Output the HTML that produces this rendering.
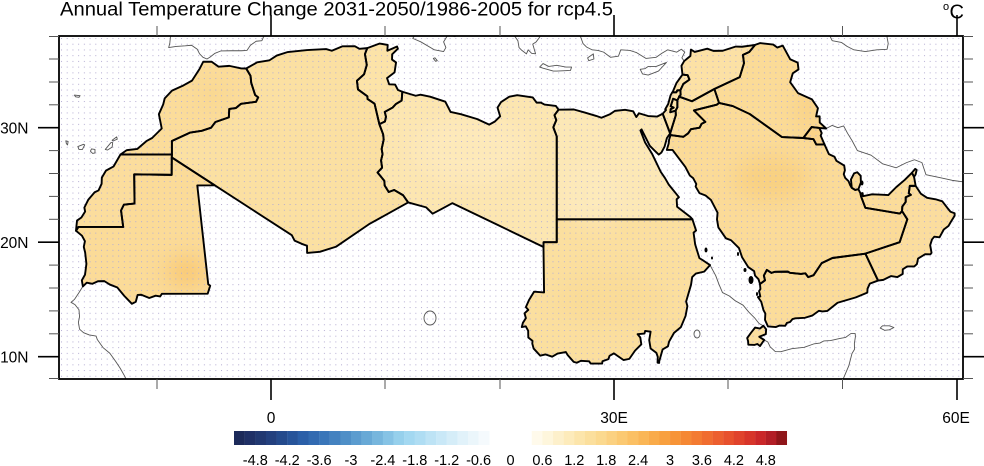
<!DOCTYPE html>
<html><head><meta charset="utf-8"><style>
html,body{margin:0;padding:0;background:#fff;}
svg{display:block;}
text{font-family:"Liberation Sans",Arial,sans-serif;fill:#000;}
</style></head><body>
<svg width="984" height="466" viewBox="0 0 984 466" xmlns="http://www.w3.org/2000/svg" xmlns:xlink="http://www.w3.org/1999/xlink">
<defs>
<clipPath id="frame"><rect x="59" y="36" width="904" height="343"/></clipPath>
<pattern id="dots" x="61" y="38" width="5.715" height="5.725" patternUnits="userSpaceOnUse"><rect width="1" height="1" fill="#b4acd2"/></pattern>
<filter id="blur" x="-50%" y="-50%" width="200%" height="200%"><feGaussianBlur stdDeviation="0.9"/></filter>
<clipPath id="land" clipPathUnits="userSpaceOnUse">
<use href="#c1" xlink:href="#c1"/><use href="#c2" xlink:href="#c2"/><use href="#c3" xlink:href="#c3"/><use href="#c4" xlink:href="#c4"/><use href="#c5" xlink:href="#c5"/><use href="#c6" xlink:href="#c6"/><use href="#c7" xlink:href="#c7"/><use href="#c8" xlink:href="#c8"/><use href="#c9" xlink:href="#c9"/><use href="#c10" xlink:href="#c10"/><use href="#c11" xlink:href="#c11"/><use href="#c12" xlink:href="#c12"/><use href="#c13" xlink:href="#c13"/><use href="#c14" xlink:href="#c14"/><use href="#c15" xlink:href="#c15"/><use href="#c16" xlink:href="#c16"/><use href="#c17" xlink:href="#c17"/><use href="#c18" xlink:href="#c18"/><use href="#c19" xlink:href="#c19"/><use href="#c20" xlink:href="#c20"/><use href="#c21" xlink:href="#c21"/><use href="#c22" xlink:href="#c22"/><use href="#c23" xlink:href="#c23"/>
</clipPath>
</defs>

<g clip-path="url(#frame)">
<rect x="59" y="36" width="904" height="343" fill="#fff"/>
<g transform="matrix(11.43 0 0 -11.45 271 471.2)" stroke="none">
<polygon id="c1" fill="#fbdc9a" points="-2.17,35.17 -1.79,34.53 -1.73,33.92 -1.39,32.86 -1.12,32.65 -1.31,32.26 -2.62,32.09 -3.07,31.72 -3.65,31.64 -3.69,30.90 -4.86,30.50 -5.24,30.00 -6.06,29.73 -7.06,29.58 -8.67,28.84 -8.67,27.66 -13.17,27.66 -12.62,28.04 -11.69,28.15 -10.90,28.83 -10.40,29.10 -9.56,29.93 -9.81,31.18 -9.43,32.04 -9.30,32.56 -8.66,33.24 -7.65,33.70 -6.91,34.11 -6.24,35.15 -5.93,35.76 -5.19,35.76 -4.59,35.33 -3.64,35.40 -2.60,35.18"/>
<polygon id="c2" fill="#fbdd9d" points="-8.67,27.66 -8.68,27.40 -8.69,25.88 -11.97,25.93 -11.94,23.37 -12.87,23.28 -13.12,22.77 -12.93,21.33 -16.85,21.33 -17.06,21.00 -17.02,21.42 -16.97,21.89 -16.59,22.16 -16.26,22.68 -16.33,23.02 -15.98,23.72 -15.43,24.36 -15.09,24.52 -14.82,25.10 -14.80,25.64 -14.44,26.25 -13.77,26.62 -13.17,27.66"/>
<polygon id="c3" fill="#fbdb98" points="-4.92,24.97 -6.45,24.96 -5.97,20.64 -5.49,16.33 -5.32,16.20 -5.54,15.50 -9.55,15.49 -9.70,15.26 -10.09,15.33 -10.65,15.13 -11.35,15.41 -11.67,15.39 -11.83,14.80 -12.17,14.62 -12.83,15.30 -13.44,16.04 -14.10,16.30 -14.58,16.60 -15.14,16.59 -15.62,16.37 -16.12,16.46 -16.46,16.14 -16.55,16.67 -16.27,17.17 -16.15,18.11 -16.26,19.10 -16.38,19.59 -16.28,20.09 -16.54,20.57 -17.06,21.00 -16.85,21.33 -12.93,21.33 -13.12,22.77 -12.87,23.28 -11.94,23.37 -11.97,25.93 -8.69,25.88 -8.68,27.40"/>
<polygon id="c4" fill="#fbe0a2" points="-8.68,27.40 -8.67,27.66 -8.67,28.84 -7.06,29.58 -6.06,29.73 -5.24,30.00 -4.86,30.50 -3.69,30.90 -3.65,31.64 -3.07,31.72 -2.62,32.09 -1.31,32.26 -1.12,32.65 -1.39,32.86 -1.73,33.92 -1.79,34.53 -2.17,35.17 -1.21,35.71 -0.13,35.89 0.50,36.30 1.47,36.61 3.16,36.78 4.82,36.87 5.32,36.72 6.26,37.11 7.33,37.12 7.74,36.89 8.42,36.95 8.22,36.43 8.38,35.48 8.14,34.66 7.52,34.10 7.61,33.34 8.43,32.75 8.44,32.51 9.06,32.10 9.48,30.31 9.81,29.42 9.86,28.96 9.68,28.14 9.76,27.69 9.63,27.14 9.72,26.51 9.32,26.09 9.91,25.37 9.95,24.94 10.30,24.38 10.77,24.56 11.56,24.10 12.00,23.47 8.57,21.57 5.68,19.60 4.27,19.16 3.16,19.06 3.15,19.69 2.68,19.86 2.06,20.14 1.82,20.61 -1.55,22.79 -4.92,24.97"/>
<polygon id="c5" fill="#fce3a8" points="9.48,30.31 9.06,32.10 8.44,32.51 8.43,32.75 7.61,33.34 7.52,34.10 8.14,34.66 8.38,35.48 8.22,36.43 8.42,36.95 9.51,37.35 10.21,37.23 10.18,36.72 11.03,37.09 11.10,36.90 10.60,36.41 10.59,35.95 10.94,35.70 10.81,34.83 10.15,34.33 10.34,33.79 10.86,33.77 11.11,33.29 11.49,33.14 11.43,32.37 10.94,32.08 10.64,31.76 9.95,31.38 10.06,30.96 9.97,30.54"/>
<polygon id="c6" fill="#fce6b1" points="14.85,22.86 14.14,22.49 13.58,23.04 12.00,23.47 11.56,24.10 10.77,24.56 10.30,24.38 9.95,24.94 9.91,25.37 9.32,26.09 9.72,26.51 9.63,27.14 9.76,27.69 9.68,28.14 9.86,28.96 9.81,29.42 9.48,30.31 9.97,30.54 10.06,30.96 9.95,31.38 10.64,31.76 10.94,32.08 11.43,32.37 11.49,33.14 12.66,32.79 13.08,32.88 13.92,32.71 15.25,32.27 15.71,31.38 16.61,31.18 18.02,30.76 19.09,30.27 19.57,30.53 20.05,30.99 19.82,31.75 20.13,32.24 20.85,32.71 21.54,32.84 22.90,32.64 23.24,32.19 23.61,32.19 23.93,32.02 24.92,31.90 25.16,31.57 24.80,31.09 24.96,30.66 24.70,30.04 25.00,29.24 25.00,22.00 25.00,20.00 23.85,20.00 23.84,19.58 19.85,21.50 15.86,23.41"/>
<polygon id="c7" fill="#fce8b6" points="36.87,22.00 25.00,22.00 25.00,29.24 24.70,30.04 24.96,30.66 24.80,31.09 25.16,31.57 26.50,31.59 27.46,31.32 28.45,31.03 28.91,30.87 29.68,31.19 30.09,31.47 30.98,31.56 31.69,31.43 31.96,30.93 32.19,31.26 32.99,31.02 33.77,30.97 34.27,31.22 34.92,29.50 34.64,29.10 34.43,28.34 34.15,27.82 33.92,27.65 33.59,27.97 33.14,28.42 32.42,29.85 32.32,29.76 32.73,28.71 33.35,27.70 34.10,26.14 34.47,25.60 34.80,25.03 35.69,23.93 35.49,23.75 35.53,23.10 36.69,22.20"/>
<polygon id="c8" fill="#fbdf9f" points="23.55,10.09 22.98,10.71 22.86,11.14 22.88,11.38 22.51,11.68 22.50,12.26 22.29,12.65 21.94,12.59 22.04,12.96 22.30,13.37 22.18,13.79 22.51,14.09 22.30,14.33 22.57,14.94 23.02,15.68 23.89,15.61 23.84,19.58 23.85,20.00 25.00,20.00 25.00,22.00 36.87,22.00 37.19,21.02 36.97,20.84 37.11,19.81 37.48,18.61 37.86,18.37 38.41,18.00 37.90,17.43 37.17,17.26 36.85,16.96 36.75,16.29 36.32,14.82 36.43,14.42 36.27,13.56 35.86,12.58 35.26,12.08 34.83,11.32 34.73,10.91 34.26,10.63 33.96,9.58 33.96,9.46 33.82,9.48 33.84,9.98 33.72,10.33 33.21,10.72 33.09,11.44 33.21,12.18 32.74,12.25 32.67,12.02 32.07,11.97 32.31,11.68 32.40,11.08 31.85,10.53 31.35,9.81 30.84,9.71 30.00,10.29 29.62,10.08 29.52,9.79 29.00,9.60 28.97,9.40 27.97,9.40 27.83,9.60 27.11,9.64 26.75,9.47 26.48,9.55 25.96,10.14 25.79,10.41 25.07,10.27 24.6,10.0 24.0,10.2"/>
<polygon id="c9" fill="#fce3aa" points="35.72,32.71 35.55,32.39 35.18,32.53 34.97,31.87 35.23,31.75 34.97,31.62 34.93,31.35 35.40,31.49 35.42,31.10 34.92,29.50 34.27,31.22 34.56,31.55 34.49,31.61 34.75,32.07 34.96,32.83 35.10,33.08 35.13,33.09 35.46,33.09 35.55,33.26 35.82,33.28 35.84,32.87 35.70,32.72"/>
<polygon id="c10" fill="#fce3aa" points="35.55,32.39 35.55,31.78 35.40,31.49 34.93,31.35 34.97,31.62 35.23,31.75 34.97,31.87 35.18,32.53"/>
<polygon id="c11" fill="#fce3aa" points="35.82,33.28 35.55,33.26 35.46,33.09 35.13,33.09 35.48,33.91 35.98,34.61 36.00,34.64 36.45,34.59 36.61,34.20 36.07,33.82"/>
<polygon id="c12" fill="#fce1a5" points="35.72,32.71 35.70,32.72 35.84,32.87 35.82,33.28 36.07,33.82 36.61,34.20 36.45,34.59 36.00,34.64 35.91,35.41 36.15,35.82 36.42,36.04 36.69,36.26 36.74,36.82 37.07,36.62 38.17,36.90 38.70,36.71 39.52,36.72 40.67,37.09 41.21,37.07 42.35,37.23 41.84,36.61 41.29,36.36 41.38,35.63 41.01,34.42 38.79,33.38 36.83,32.31"/>
<polygon id="c13" fill="#fbdfa0" points="35.55,32.39 35.72,32.71 36.83,32.31 38.79,33.38 39.20,32.16 39.00,32.01 37.00,31.51 38.00,30.51 37.67,30.34 37.50,30.00 36.74,29.87 36.50,29.51 36.07,29.20 34.96,29.36 34.92,29.50 35.42,31.10 35.40,31.49 35.55,31.78"/>
<polygon id="c14" fill="#fbdb97" points="45.42,35.98 46.08,35.68 46.15,35.09 45.65,34.75 45.42,33.97 46.11,33.02 47.33,32.47 47.85,31.71 47.69,30.98 48.00,30.99 48.01,30.45 48.57,29.93 47.97,29.98 47.30,30.06 46.57,29.10 44.71,29.18 41.89,31.19 40.40,31.89 39.20,32.16 38.79,33.38 41.01,34.42 41.38,35.63 41.29,36.36 41.84,36.61 42.35,37.23 42.78,37.39 43.94,37.26 44.29,37.00 44.77,37.17"/>
<polygon id="c15" fill="#fad48b" points="47.97,29.98 48.18,29.53 48.09,29.31 48.42,28.55 47.71,28.53 47.46,29.00 46.57,29.10 47.30,30.06"/>
<polygon id="c16" fill="#fbdb98" points="42.78,16.35 42.65,16.77 42.35,17.08 42.27,17.47 41.75,17.83 41.22,18.67 40.94,19.49 40.25,20.17 39.80,20.34 39.14,21.29 39.02,21.99 39.07,22.58 38.49,23.69 38.02,24.08 37.48,24.29 37.15,24.86 37.21,25.08 36.93,25.60 36.64,25.83 36.25,26.57 35.64,27.38 35.13,28.06 34.63,28.06 34.79,28.61 34.83,28.96 34.96,29.36 36.07,29.20 36.50,29.51 36.74,29.87 37.50,30.00 37.67,30.34 38.00,30.51 37.00,31.51 39.00,32.01 39.20,32.16 40.40,31.89 41.89,31.19 44.71,29.18 46.57,29.10 47.46,29.00 47.71,28.53 48.42,28.55 48.81,27.69 49.30,27.46 49.47,27.11 50.15,26.69 50.21,26.28 50.11,25.94 50.24,25.61 50.53,25.33 50.66,25.00 50.81,24.75 51.11,24.56 51.39,24.63 51.58,24.25 51.62,24.01 52.00,23.00 55.01,22.50 55.21,22.71 55.67,22.00 55.00,20.00 52.00,19.00 49.12,18.62 48.18,18.17 47.47,17.12 47.00,16.95 46.75,17.28 46.37,17.23 45.40,17.33 45.22,17.43 44.06,17.41 43.79,17.32 43.38,17.58 43.12,17.09 43.22,16.67"/>
<polygon id="c17" fill="#fbdc9a" points="52.00,19.00 52.78,17.35 53.11,16.65 52.39,16.38 52.19,15.94 52.17,15.60 51.17,15.18 49.57,14.71 48.68,14.00 48.24,13.95 47.94,14.01 47.35,13.59 46.72,13.40 45.88,13.35 45.63,13.29 45.41,13.03 45.14,12.95 44.99,12.70 44.49,12.72 44.18,12.59 43.48,12.64 43.22,13.22 43.25,13.77 43.09,14.06 42.89,14.80 42.60,15.21 42.81,15.26 42.70,15.72 42.82,15.91 42.78,16.35 43.22,16.67 43.12,17.09 43.38,17.58 43.79,17.32 44.06,17.41 45.22,17.43 45.40,17.33 46.37,17.23 46.75,17.28 47.00,16.95 47.47,17.12 48.18,18.17 49.12,18.62"/>
<polygon id="c18" fill="#fbdd9e" points="58.86,21.11 58.49,20.43 58.03,20.48 57.83,20.24 57.67,19.74 57.79,19.07 57.69,18.94 57.23,18.95 56.61,18.57 56.51,18.09 56.28,17.88 55.66,17.88 55.27,17.63 55.27,17.23 54.79,16.95 54.24,17.04 53.57,16.71 53.11,16.65 52.78,17.35 52.00,19.00 55.00,20.00 55.67,22.00 55.21,22.71 55.23,23.11 55.53,23.52 55.53,23.93 55.98,24.13 55.80,24.27 55.89,24.92 56.40,24.92 56.85,24.24 57.40,23.88 58.14,23.75 58.73,23.57 59.18,22.99 59.45,22.66 59.81,22.53 59.81,22.31 59.44,21.71 59.28,21.43"/>
<polygon id="c19" fill="#fbdd9e" points="56.39,25.90 56.26,25.71 56.07,26.06 56.36,26.40 56.49,26.31"/>
<polygon id="c20" fill="#fbdc9a" points="51.58,24.25 51.76,24.29 51.79,24.02 52.58,24.18 53.40,24.15 54.01,24.12 54.69,24.80 55.44,25.44 56.07,26.06 56.26,25.71 56.40,24.92 55.89,24.92 55.80,24.27 55.98,24.13 55.53,23.93 55.53,23.52 55.23,23.11 55.21,22.71 55.01,22.50 52.00,23.00 51.62,24.01"/>
<polygon id="c21" fill="#fbdb98" points="50.81,24.75 50.74,25.48 51.01,26.01 51.29,26.11 51.59,25.80 51.61,25.22 51.39,24.63 51.11,24.56"/>
<polygon id="c22" fill="#fbdf9f" points="43.08,12.70 43.32,12.39 43.29,11.97 42.72,11.74 43.15,11.46 42.78,10.93 42.55,11.11 42.31,11.03 41.76,11.05 41.74,11.36 41.66,11.63 42.00,12.10 42.35,12.54 42.78,12.46"/>
<polygon id="c23" fill="#fbdc9a" points="-8.68,27.40 -8.69,25.88 -8.67,27.66"/>

<!-- shading variations (clipped to land) -->
<g clip-path="url(#land)">
<g filter="url(#blur)" opacity="0.85">
<ellipse cx="43.8" cy="25.6" rx="3.3" ry="1.9" fill="#f8cf7e"/>
<ellipse cx="47.0" cy="31.7" rx="1.0" ry="2.3" fill="#f9d083"/>
<ellipse cx="-7.4" cy="17.4" rx="1.75" ry="1.4" fill="#f8c670"/>
<ellipse cx="-5.2" cy="32.9" rx="1.0" ry="1.0" fill="#f9d488"/>
<ellipse cx="17.4" cy="28.1" rx="5.2" ry="3.0" fill="#fdebc0" opacity="0.7"/>
<ellipse cx="28.3" cy="24.1" rx="2.6" ry="3.0" fill="#fdebc0" opacity="0.6"/>
<ellipse cx="29.7" cy="15.0" rx="4.8" ry="2.2" fill="#fad893" opacity="0.7"/>
</g>
</g>
</g>

<rect x="59" y="36" width="904" height="343" fill="url(#dots)"/>

<!-- gray coastlines -->
<g transform="matrix(11.43 0 0 -11.45 271 471.2)" fill="none" stroke="#555" stroke-width="0.9" stroke-linejoin="round">
<polyline vector-effect="non-scaling-stroke" points="-8.85,38.3 -8.8,37.9 -8.85,37.4 -8.95,37.0 -8.3,37.1 -7.5,37.15 -6.95,37.2 -6.45,36.85 -6.25,36.45 -5.95,36.15 -5.6,36.0 -5.35,36.15 -4.9,36.5 -4.4,36.7 -3.5,36.72 -2.6,36.72 -2.1,36.75 -1.8,37.2 -1.3,37.55 -0.8,37.6 -0.6,38.05 -0.3,38.4"/>
<polygon vector-effect="non-scaling-stroke" points="12.4,37.8 12.6,38.1 13.4,38.2 14.0,38.0 15.1,38.2 15.6,38.3 15.1,37.5 15.3,37.0 15.1,36.65 14.3,36.8 13.1,37.5"/>
<polyline vector-effect="non-scaling-stroke" points="15.6,38.4 15.9,38.0 16.1,37.95 16.5,38.4"/>
<polygon vector-effect="non-scaling-stroke" points="14.2,36.05 14.35,36.1 14.55,35.85 14.4,35.8"/>
<polyline vector-effect="non-scaling-stroke" points="21.1,38.3 21.6,37.6 21.7,37.0 21.95,36.75 22.35,36.45 22.5,36.8 22.8,36.5 23.15,36.45 22.9,37.3 23.2,37.5 23.5,37.9 23.6,38.1"/>
<polygon vector-effect="non-scaling-stroke" points="23.5,35.3 23.8,35.6 24.3,35.35 25.0,35.45 25.8,35.3 26.3,35.3 26.2,35.0 25.0,34.95 24.7,34.95 23.8,35.2"/>
<polygon vector-effect="non-scaling-stroke" points="27.7,36.1 28.2,36.45 28.25,36.0 27.8,35.85"/>
<polyline vector-effect="non-scaling-stroke" points="26.2,38.4 26.5,38.3 26.8,38.3 27.1,37.9 27.3,37.35 27.6,37.05 28.1,36.8 28.6,36.75 29.1,36.6 29.7,36.15 30.4,36.25 30.6,36.8 31.4,36.75 32.0,36.55 32.8,36.05 33.7,36.15 34.2,36.5 34.7,36.8 35.5,36.6 35.9,36.85 36.2,36.6 35.95,36.1 36.15,35.82"/>
<polygon vector-effect="non-scaling-stroke" points="32.3,35.1 32.7,35.15 33.0,35.35 33.7,35.35 34.6,35.7 34.0,35.05 33.9,34.95 33.0,34.6 32.5,34.7"/>
<polyline vector-effect="non-scaling-stroke" points="48.01,30.45 48.57,29.93 49.1,30.2 49.6,30.0 50.1,30.15 50.45,29.5 50.85,28.85 51.3,28.0 52.5,27.6 53.5,26.85 54.7,26.5 55.6,26.95 56.3,27.2 56.95,26.95 57.3,25.9 58.5,25.65 59.6,25.4 61.5,25.15"/>
<polyline vector-effect="non-scaling-stroke" points="48.85,38.5 48.9,38.0 49.1,37.6 49.9,37.45 50.4,37.1 51.0,36.8 52.0,36.65 53.0,36.8 53.9,36.85 54.0,37.35 53.9,37.9 53.9,38.5"/>
<polyline vector-effect="non-scaling-stroke" points="-16.46,16.14 -16.8,15.6 -17.2,15.0 -17.5,14.75 -17.15,14.55 -16.8,14.1 -16.75,13.5 -16.85,13.0 -16.75,12.4 -16.4,12.1 -15.9,11.9 -15.3,11.8 -15.2,11.5 -14.7,10.8 -14.1,10.3 -13.6,9.6 -13.2,9.0 -12.8,8.3 -12.5,7.6"/>
<polyline vector-effect="non-scaling-stroke" points="38.41,18.0 38.9,17.1 39.2,16.3 39.5,15.6 40.1,15.3 40.6,14.9 41.3,14.5 41.8,13.9 42.3,13.4 42.7,12.9 43.08,12.70"/>
<polyline vector-effect="non-scaling-stroke" points="43.15,11.46 43.47,11.28 43.67,10.86 44.12,10.45 44.61,10.44 45.56,10.70 46.65,10.82 47.53,11.13 48.02,11.19 48.38,11.38 48.95,11.41 49.73,11.58 50.26,11.68 50.73,12.02 51.11,12.02 51.13,11.75 51.04,11.17 51.05,10.64 50.83,10.28 50.55,9.20 50.07,8.08 49.9,7.7"/>
<polygon vector-effect="non-scaling-stroke" points="53.5,12.7 54.1,12.7 54.5,12.55 54.1,12.35 53.7,12.3 53.3,12.5"/>
<polygon vector-effect="non-scaling-stroke" points="-17.2,32.85 -16.7,32.8 -16.8,32.65 -17.1,32.7"/>
<polygon vector-effect="non-scaling-stroke" points="-17.95,28.85 -17.75,28.8 -17.8,28.5 -17.9,28.6"/>
<polygon vector-effect="non-scaling-stroke" points="-16.9,28.35 -16.4,28.55 -16.3,28.5 -16.5,28.1 -16.8,28.1"/>
<polygon vector-effect="non-scaling-stroke" points="-15.7,28.15 -15.4,28.1 -15.4,27.8 -15.6,27.75 -15.8,27.95"/>
<polygon vector-effect="non-scaling-stroke" points="-14.5,28.1 -14.0,28.7 -13.85,28.7 -13.9,28.3 -14.3,28.05"/>
<polygon vector-effect="non-scaling-stroke" points="-13.9,28.9 -13.5,29.2 -13.45,29.0 -13.8,28.85"/>
</g>
<ellipse cx="430" cy="318" rx="6" ry="7" fill="none" stroke="#555" stroke-width="0.9"/>
<ellipse cx="697" cy="334" rx="3" ry="4" fill="none" stroke="#555" stroke-width="0.9"/>

<!-- black country borders -->
<g transform="matrix(11.43 0 0 -11.45 271 471.2)" fill="none" stroke="#000" stroke-width="1.9" stroke-linejoin="round">
<polygon vector-effect="non-scaling-stroke" points="-2.17,35.17 -1.79,34.53 -1.73,33.92 -1.39,32.86 -1.12,32.65 -1.31,32.26 -2.62,32.09 -3.07,31.72 -3.65,31.64 -3.69,30.90 -4.86,30.50 -5.24,30.00 -6.06,29.73 -7.06,29.58 -8.67,28.84 -8.67,27.66 -13.17,27.66 -12.62,28.04 -11.69,28.15 -10.90,28.83 -10.40,29.10 -9.56,29.93 -9.81,31.18 -9.43,32.04 -9.30,32.56 -8.66,33.24 -7.65,33.70 -6.91,34.11 -6.24,35.15 -5.93,35.76 -5.19,35.76 -4.59,35.33 -3.64,35.40 -2.60,35.18"/>
<polygon vector-effect="non-scaling-stroke" points="-8.67,27.66 -8.68,27.40 -8.69,25.88 -11.97,25.93 -11.94,23.37 -12.87,23.28 -13.12,22.77 -12.93,21.33 -16.85,21.33 -17.06,21.00 -17.02,21.42 -16.97,21.89 -16.59,22.16 -16.26,22.68 -16.33,23.02 -15.98,23.72 -15.43,24.36 -15.09,24.52 -14.82,25.10 -14.80,25.64 -14.44,26.25 -13.77,26.62 -13.17,27.66"/>
<polygon vector-effect="non-scaling-stroke" points="-4.92,24.97 -6.45,24.96 -5.97,20.64 -5.49,16.33 -5.32,16.20 -5.54,15.50 -9.55,15.49 -9.70,15.26 -10.09,15.33 -10.65,15.13 -11.35,15.41 -11.67,15.39 -11.83,14.80 -12.17,14.62 -12.83,15.30 -13.44,16.04 -14.10,16.30 -14.58,16.60 -15.14,16.59 -15.62,16.37 -16.12,16.46 -16.46,16.14 -16.55,16.67 -16.27,17.17 -16.15,18.11 -16.26,19.10 -16.38,19.59 -16.28,20.09 -16.54,20.57 -17.06,21.00 -16.85,21.33 -12.93,21.33 -13.12,22.77 -12.87,23.28 -11.94,23.37 -11.97,25.93 -8.69,25.88 -8.68,27.40"/>
<polygon vector-effect="non-scaling-stroke" points="-8.68,27.40 -8.67,27.66 -8.67,28.84 -7.06,29.58 -6.06,29.73 -5.24,30.00 -4.86,30.50 -3.69,30.90 -3.65,31.64 -3.07,31.72 -2.62,32.09 -1.31,32.26 -1.12,32.65 -1.39,32.86 -1.73,33.92 -1.79,34.53 -2.17,35.17 -1.21,35.71 -0.13,35.89 0.50,36.30 1.47,36.61 3.16,36.78 4.82,36.87 5.32,36.72 6.26,37.11 7.33,37.12 7.74,36.89 8.42,36.95 8.22,36.43 8.38,35.48 8.14,34.66 7.52,34.10 7.61,33.34 8.43,32.75 8.44,32.51 9.06,32.10 9.48,30.31 9.81,29.42 9.86,28.96 9.68,28.14 9.76,27.69 9.63,27.14 9.72,26.51 9.32,26.09 9.91,25.37 9.95,24.94 10.30,24.38 10.77,24.56 11.56,24.10 12.00,23.47 8.57,21.57 5.68,19.60 4.27,19.16 3.16,19.06 3.15,19.69 2.68,19.86 2.06,20.14 1.82,20.61 -1.55,22.79 -4.92,24.97"/>
<polygon vector-effect="non-scaling-stroke" points="9.48,30.31 9.06,32.10 8.44,32.51 8.43,32.75 7.61,33.34 7.52,34.10 8.14,34.66 8.38,35.48 8.22,36.43 8.42,36.95 9.51,37.35 10.21,37.23 10.18,36.72 11.03,37.09 11.10,36.90 10.60,36.41 10.59,35.95 10.94,35.70 10.81,34.83 10.15,34.33 10.34,33.79 10.86,33.77 11.11,33.29 11.49,33.14 11.43,32.37 10.94,32.08 10.64,31.76 9.95,31.38 10.06,30.96 9.97,30.54"/>
<polygon vector-effect="non-scaling-stroke" points="14.85,22.86 14.14,22.49 13.58,23.04 12.00,23.47 11.56,24.10 10.77,24.56 10.30,24.38 9.95,24.94 9.91,25.37 9.32,26.09 9.72,26.51 9.63,27.14 9.76,27.69 9.68,28.14 9.86,28.96 9.81,29.42 9.48,30.31 9.97,30.54 10.06,30.96 9.95,31.38 10.64,31.76 10.94,32.08 11.43,32.37 11.49,33.14 12.66,32.79 13.08,32.88 13.92,32.71 15.25,32.27 15.71,31.38 16.61,31.18 18.02,30.76 19.09,30.27 19.57,30.53 20.05,30.99 19.82,31.75 20.13,32.24 20.85,32.71 21.54,32.84 22.90,32.64 23.24,32.19 23.61,32.19 23.93,32.02 24.92,31.90 25.16,31.57 24.80,31.09 24.96,30.66 24.70,30.04 25.00,29.24 25.00,22.00 25.00,20.00 23.85,20.00 23.84,19.58 19.85,21.50 15.86,23.41"/>
<polygon vector-effect="non-scaling-stroke" points="36.87,22.00 25.00,22.00 25.00,29.24 24.70,30.04 24.96,30.66 24.80,31.09 25.16,31.57 26.50,31.59 27.46,31.32 28.45,31.03 28.91,30.87 29.68,31.19 30.09,31.47 30.98,31.56 31.69,31.43 31.96,30.93 32.19,31.26 32.99,31.02 33.77,30.97 34.27,31.22 34.92,29.50 34.64,29.10 34.43,28.34 34.15,27.82 33.92,27.65 33.59,27.97 33.14,28.42 32.42,29.85 32.32,29.76 32.73,28.71 33.35,27.70 34.10,26.14 34.47,25.60 34.80,25.03 35.69,23.93 35.49,23.75 35.53,23.10 36.69,22.20"/>
<polygon vector-effect="non-scaling-stroke" points="23.55,10.09 22.98,10.71 22.86,11.14 22.88,11.38 22.51,11.68 22.50,12.26 22.29,12.65 21.94,12.59 22.04,12.96 22.30,13.37 22.18,13.79 22.51,14.09 22.30,14.33 22.57,14.94 23.02,15.68 23.89,15.61 23.84,19.58 23.85,20.00 25.00,20.00 25.00,22.00 36.87,22.00 37.19,21.02 36.97,20.84 37.11,19.81 37.48,18.61 37.86,18.37 38.41,18.00 37.90,17.43 37.17,17.26 36.85,16.96 36.75,16.29 36.32,14.82 36.43,14.42 36.27,13.56 35.86,12.58 35.26,12.08 34.83,11.32 34.73,10.91 34.26,10.63 33.96,9.58 33.96,9.46 33.82,9.48 33.84,9.98 33.72,10.33 33.21,10.72 33.09,11.44 33.21,12.18 32.74,12.25 32.67,12.02 32.07,11.97 32.31,11.68 32.40,11.08 31.85,10.53 31.35,9.81 30.84,9.71 30.00,10.29 29.62,10.08 29.52,9.79 29.00,9.60 28.97,9.40 27.97,9.40 27.83,9.60 27.11,9.64 26.75,9.47 26.48,9.55 25.96,10.14 25.79,10.41 25.07,10.27 24.6,10.0 24.0,10.2"/>
<polygon vector-effect="non-scaling-stroke" points="35.72,32.71 35.55,32.39 35.18,32.53 34.97,31.87 35.23,31.75 34.97,31.62 34.93,31.35 35.40,31.49 35.42,31.10 34.92,29.50 34.27,31.22 34.56,31.55 34.49,31.61 34.75,32.07 34.96,32.83 35.10,33.08 35.13,33.09 35.46,33.09 35.55,33.26 35.82,33.28 35.84,32.87 35.70,32.72"/>
<polygon vector-effect="non-scaling-stroke" points="35.55,32.39 35.55,31.78 35.40,31.49 34.93,31.35 34.97,31.62 35.23,31.75 34.97,31.87 35.18,32.53"/>
<polygon vector-effect="non-scaling-stroke" points="35.82,33.28 35.55,33.26 35.46,33.09 35.13,33.09 35.48,33.91 35.98,34.61 36.00,34.64 36.45,34.59 36.61,34.20 36.07,33.82"/>
<polygon vector-effect="non-scaling-stroke" points="35.72,32.71 35.70,32.72 35.84,32.87 35.82,33.28 36.07,33.82 36.61,34.20 36.45,34.59 36.00,34.64 35.91,35.41 36.15,35.82 36.42,36.04 36.69,36.26 36.74,36.82 37.07,36.62 38.17,36.90 38.70,36.71 39.52,36.72 40.67,37.09 41.21,37.07 42.35,37.23 41.84,36.61 41.29,36.36 41.38,35.63 41.01,34.42 38.79,33.38 36.83,32.31"/>
<polygon vector-effect="non-scaling-stroke" points="35.55,32.39 35.72,32.71 36.83,32.31 38.79,33.38 39.20,32.16 39.00,32.01 37.00,31.51 38.00,30.51 37.67,30.34 37.50,30.00 36.74,29.87 36.50,29.51 36.07,29.20 34.96,29.36 34.92,29.50 35.42,31.10 35.40,31.49 35.55,31.78"/>
<polygon vector-effect="non-scaling-stroke" points="45.42,35.98 46.08,35.68 46.15,35.09 45.65,34.75 45.42,33.97 46.11,33.02 47.33,32.47 47.85,31.71 47.69,30.98 48.00,30.99 48.01,30.45 48.57,29.93 47.97,29.98 47.30,30.06 46.57,29.10 44.71,29.18 41.89,31.19 40.40,31.89 39.20,32.16 38.79,33.38 41.01,34.42 41.38,35.63 41.29,36.36 41.84,36.61 42.35,37.23 42.78,37.39 43.94,37.26 44.29,37.00 44.77,37.17"/>
<polygon vector-effect="non-scaling-stroke" points="47.97,29.98 48.18,29.53 48.09,29.31 48.42,28.55 47.71,28.53 47.46,29.00 46.57,29.10 47.30,30.06"/>
<polygon vector-effect="non-scaling-stroke" points="42.78,16.35 42.65,16.77 42.35,17.08 42.27,17.47 41.75,17.83 41.22,18.67 40.94,19.49 40.25,20.17 39.80,20.34 39.14,21.29 39.02,21.99 39.07,22.58 38.49,23.69 38.02,24.08 37.48,24.29 37.15,24.86 37.21,25.08 36.93,25.60 36.64,25.83 36.25,26.57 35.64,27.38 35.13,28.06 34.63,28.06 34.79,28.61 34.83,28.96 34.96,29.36 36.07,29.20 36.50,29.51 36.74,29.87 37.50,30.00 37.67,30.34 38.00,30.51 37.00,31.51 39.00,32.01 39.20,32.16 40.40,31.89 41.89,31.19 44.71,29.18 46.57,29.10 47.46,29.00 47.71,28.53 48.42,28.55 48.81,27.69 49.30,27.46 49.47,27.11 50.15,26.69 50.21,26.28 50.11,25.94 50.24,25.61 50.53,25.33 50.66,25.00 50.81,24.75 51.11,24.56 51.39,24.63 51.58,24.25 51.62,24.01 52.00,23.00 55.01,22.50 55.21,22.71 55.67,22.00 55.00,20.00 52.00,19.00 49.12,18.62 48.18,18.17 47.47,17.12 47.00,16.95 46.75,17.28 46.37,17.23 45.40,17.33 45.22,17.43 44.06,17.41 43.79,17.32 43.38,17.58 43.12,17.09 43.22,16.67"/>
<polygon vector-effect="non-scaling-stroke" points="52.00,19.00 52.78,17.35 53.11,16.65 52.39,16.38 52.19,15.94 52.17,15.60 51.17,15.18 49.57,14.71 48.68,14.00 48.24,13.95 47.94,14.01 47.35,13.59 46.72,13.40 45.88,13.35 45.63,13.29 45.41,13.03 45.14,12.95 44.99,12.70 44.49,12.72 44.18,12.59 43.48,12.64 43.22,13.22 43.25,13.77 43.09,14.06 42.89,14.80 42.60,15.21 42.81,15.26 42.70,15.72 42.82,15.91 42.78,16.35 43.22,16.67 43.12,17.09 43.38,17.58 43.79,17.32 44.06,17.41 45.22,17.43 45.40,17.33 46.37,17.23 46.75,17.28 47.00,16.95 47.47,17.12 48.18,18.17 49.12,18.62"/>
<polygon vector-effect="non-scaling-stroke" points="58.86,21.11 58.49,20.43 58.03,20.48 57.83,20.24 57.67,19.74 57.79,19.07 57.69,18.94 57.23,18.95 56.61,18.57 56.51,18.09 56.28,17.88 55.66,17.88 55.27,17.63 55.27,17.23 54.79,16.95 54.24,17.04 53.57,16.71 53.11,16.65 52.78,17.35 52.00,19.00 55.00,20.00 55.67,22.00 55.21,22.71 55.23,23.11 55.53,23.52 55.53,23.93 55.98,24.13 55.80,24.27 55.89,24.92 56.40,24.92 56.85,24.24 57.40,23.88 58.14,23.75 58.73,23.57 59.18,22.99 59.45,22.66 59.81,22.53 59.81,22.31 59.44,21.71 59.28,21.43"/>
<polygon vector-effect="non-scaling-stroke" points="56.39,25.90 56.26,25.71 56.07,26.06 56.36,26.40 56.49,26.31"/>
<polygon vector-effect="non-scaling-stroke" points="51.58,24.25 51.76,24.29 51.79,24.02 52.58,24.18 53.40,24.15 54.01,24.12 54.69,24.80 55.44,25.44 56.07,26.06 56.26,25.71 56.40,24.92 55.89,24.92 55.80,24.27 55.98,24.13 55.53,23.93 55.53,23.52 55.23,23.11 55.21,22.71 55.01,22.50 52.00,23.00 51.62,24.01"/>
<polygon vector-effect="non-scaling-stroke" points="50.81,24.75 50.74,25.48 51.01,26.01 51.29,26.11 51.59,25.80 51.61,25.22 51.39,24.63 51.11,24.56"/>
<polygon vector-effect="non-scaling-stroke" points="43.08,12.70 43.32,12.39 43.29,11.97 42.72,11.74 43.15,11.46 42.78,10.93 42.55,11.11 42.31,11.03 41.76,11.05 41.74,11.36 41.66,11.63 42.00,12.10 42.35,12.54 42.78,12.46"/>
</g>
<!-- red sea islands -->
<g fill="#000">
<ellipse cx="751" cy="280" rx="2.5" ry="4"/>
<ellipse cx="745" cy="270" rx="1.5" ry="2"/>
<ellipse cx="738" cy="254" rx="1" ry="2"/>
<ellipse cx="706" cy="250" rx="1.5" ry="2.5"/>
<ellipse cx="712" cy="258" rx="1" ry="1.5"/>
<ellipse cx="757" cy="294" rx="1" ry="2"/>
<ellipse cx="862" cy="183" rx="1.5" ry="2.5"/>
</g>
</g>

<!-- frame -->
<rect x="59" y="36" width="904" height="343" fill="none" stroke="#000" stroke-width="1.8"/>

<!-- ticks -->
<g stroke="#000" stroke-width="1.6">
<line x1="38" y1="127.7" x2="59" y2="127.7"/><line x1="38" y1="242.2" x2="59" y2="242.2"/><line x1="38" y1="356.7" x2="59" y2="356.7"/>
<line x1="963" y1="127.7" x2="984" y2="127.7"/><line x1="963" y1="242.2" x2="984" y2="242.2"/><line x1="963" y1="356.7" x2="984" y2="356.7"/>
<line x1="271" y1="15" x2="271" y2="36"/><line x1="614" y1="15" x2="614" y2="36"/><line x1="957" y1="15" x2="957" y2="36"/>
<line x1="271" y1="379" x2="271" y2="400"/><line x1="614" y1="379" x2="614" y2="400"/><line x1="957" y1="379" x2="957" y2="400"/>
</g>
<g stroke="#555" stroke-width="1">
<line x1="49" y1="36.5" x2="59" y2="36.5"/><line x1="49" y1="59" x2="59" y2="59"/><line x1="49" y1="82" x2="59" y2="82"/><line x1="49" y1="104.8" x2="59" y2="104.8"/><line x1="49" y1="150.6" x2="59" y2="150.6"/><line x1="49" y1="173.5" x2="59" y2="173.5"/><line x1="49" y1="196.4" x2="59" y2="196.4"/><line x1="49" y1="219.3" x2="59" y2="219.3"/><line x1="49" y1="265.1" x2="59" y2="265.1"/><line x1="49" y1="288" x2="59" y2="288"/><line x1="49" y1="310.9" x2="59" y2="310.9"/><line x1="49" y1="333.8" x2="59" y2="333.8"/><line x1="49" y1="378.5" x2="59" y2="378.5"/>
<line x1="963" y1="36.5" x2="973" y2="36.5"/><line x1="963" y1="59" x2="973" y2="59"/><line x1="963" y1="82" x2="973" y2="82"/><line x1="963" y1="104.8" x2="973" y2="104.8"/><line x1="963" y1="150.6" x2="973" y2="150.6"/><line x1="963" y1="173.5" x2="973" y2="173.5"/><line x1="963" y1="196.4" x2="973" y2="196.4"/><line x1="963" y1="219.3" x2="973" y2="219.3"/><line x1="963" y1="265.1" x2="973" y2="265.1"/><line x1="963" y1="288" x2="973" y2="288"/><line x1="963" y1="310.9" x2="973" y2="310.9"/><line x1="963" y1="333.8" x2="973" y2="333.8"/><line x1="963" y1="378.5" x2="973" y2="378.5"/>
<line x1="157" y1="26" x2="157" y2="36"/><line x1="385" y1="26" x2="385" y2="36"/><line x1="500" y1="26" x2="500" y2="36"/><line x1="728" y1="26" x2="728" y2="36"/><line x1="842.5" y1="26" x2="842.5" y2="36"/>
<line x1="157" y1="379" x2="157" y2="389"/><line x1="385" y1="379" x2="385" y2="389"/><line x1="500" y1="379" x2="500" y2="389"/><line x1="728" y1="379" x2="728" y2="389"/><line x1="842.5" y1="379" x2="842.5" y2="389"/>
</g>

<!-- labels -->
<text x="60" y="15.5" font-size="19" textLength="553" lengthAdjust="spacingAndGlyphs">Annual Temperature Change 2031-2050/1986-2005 for rcp4.5</text>
<text x="943" y="10" font-size="11">o</text>
<text x="964" y="18.5" font-size="20" text-anchor="end">C</text>
<g font-size="15.5" text-anchor="end">
<text x="28.5" y="133.5">30N</text>
<text x="28.5" y="248">20N</text>
<text x="28.5" y="362.5">10N</text>
</g>
<g font-size="15.5" text-anchor="middle">
<text x="271" y="423">0</text>
<text x="614" y="423">30E</text>
<text x="956" y="423">60E</text>
</g>

<!-- colorbar -->
<g>
<rect x="234.00" y="431" width="10.8" height="14" fill="#1c2a5a"/>
<rect x="244.64" y="431" width="10.8" height="14" fill="#1f3066"/>
<rect x="255.27" y="431" width="10.8" height="14" fill="#213871"/>
<rect x="265.91" y="431" width="10.8" height="14" fill="#23407e"/>
<rect x="276.54" y="431" width="10.8" height="14" fill="#244a8c"/>
<rect x="287.18" y="431" width="10.8" height="14" fill="#27549a"/>
<rect x="297.81" y="431" width="10.8" height="14" fill="#2b5fa8"/>
<rect x="308.45" y="431" width="10.8" height="14" fill="#326ab1"/>
<rect x="319.08" y="431" width="10.8" height="14" fill="#3a76b9"/>
<rect x="329.72" y="431" width="10.8" height="14" fill="#4482c0"/>
<rect x="340.35" y="431" width="10.8" height="14" fill="#4f8fc7"/>
<rect x="350.99" y="431" width="10.8" height="14" fill="#5b9ccf"/>
<rect x="361.62" y="431" width="10.8" height="14" fill="#68a9d6"/>
<rect x="372.26" y="431" width="10.8" height="14" fill="#77b6dd"/>
<rect x="382.89" y="431" width="10.8" height="14" fill="#86c3e5"/>
<rect x="393.53" y="431" width="10.8" height="14" fill="#96d0ec"/>
<rect x="404.16" y="431" width="10.8" height="14" fill="#a3d8f1"/>
<rect x="414.80" y="431" width="10.8" height="14" fill="#afddf3"/>
<rect x="425.43" y="431" width="10.8" height="14" fill="#bde3f5"/>
<rect x="436.07" y="431" width="10.8" height="14" fill="#c9e8f7"/>
<rect x="446.70" y="431" width="10.8" height="14" fill="#d5edf8"/>
<rect x="457.34" y="431" width="10.8" height="14" fill="#e1f2fa"/>
<rect x="467.97" y="431" width="10.8" height="14" fill="#ebf6fb"/>
<rect x="478.61" y="431" width="10.8" height="14" fill="#f5fafd"/>
<rect x="531.78" y="431" width="10.8" height="14" fill="#fffaeb"/>
<rect x="542.42" y="431" width="10.8" height="14" fill="#fef6dc"/>
<rect x="553.05" y="431" width="10.8" height="14" fill="#fdf0cb"/>
<rect x="563.69" y="431" width="10.8" height="14" fill="#fdebbb"/>
<rect x="574.32" y="431" width="10.8" height="14" fill="#fce5ab"/>
<rect x="584.96" y="431" width="10.8" height="14" fill="#fbdf9d"/>
<rect x="595.59" y="431" width="10.8" height="14" fill="#fbd98f"/>
<rect x="606.23" y="431" width="10.8" height="14" fill="#fbd181"/>
<rect x="616.86" y="431" width="10.8" height="14" fill="#fbc972"/>
<rect x="627.50" y="431" width="10.8" height="14" fill="#fbc064"/>
<rect x="638.13" y="431" width="10.8" height="14" fill="#fab656"/>
<rect x="648.77" y="431" width="10.8" height="14" fill="#f9ab4a"/>
<rect x="659.40" y="431" width="10.8" height="14" fill="#f8a03f"/>
<rect x="670.04" y="431" width="10.8" height="14" fill="#f79437"/>
<rect x="680.67" y="431" width="10.8" height="14" fill="#f58834"/>
<rect x="691.31" y="431" width="10.8" height="14" fill="#f37b32"/>
<rect x="701.94" y="431" width="10.8" height="14" fill="#f06d30"/>
<rect x="712.58" y="431" width="10.8" height="14" fill="#ec5f2f"/>
<rect x="723.21" y="431" width="10.8" height="14" fill="#e7512d"/>
<rect x="733.85" y="431" width="10.8" height="14" fill="#e0432c"/>
<rect x="744.48" y="431" width="10.8" height="14" fill="#d7352a"/>
<rect x="755.12" y="431" width="10.8" height="14" fill="#ca2729"/>
<rect x="765.75" y="431" width="10.8" height="14" fill="#b21e26"/>
<rect x="776.39" y="431" width="10.63" height="14" fill="#8f161a"/>
</g>
<g font-size="14.5" text-anchor="middle">
<text x="255.3" y="465">-4.8</text>
<text x="287.2" y="465">-4.2</text>
<text x="319.1" y="465">-3.6</text>
<text x="351" y="465">-3</text>
<text x="382.9" y="465">-2.4</text>
<text x="414.8" y="465">-1.8</text>
<text x="446.7" y="465">-1.2</text>
<text x="478.6" y="465">-0.6</text>
<text x="510.5" y="465">0</text>
<text x="542.4" y="465">0.6</text>
<text x="574.3" y="465">1.2</text>
<text x="606.2" y="465">1.8</text>
<text x="638.1" y="465">2.4</text>
<text x="670" y="465">3</text>
<text x="701.9" y="465">3.6</text>
<text x="733.9" y="465">4.2</text>
<text x="765.8" y="465">4.8</text>
</g>
</svg>
</body></html>
